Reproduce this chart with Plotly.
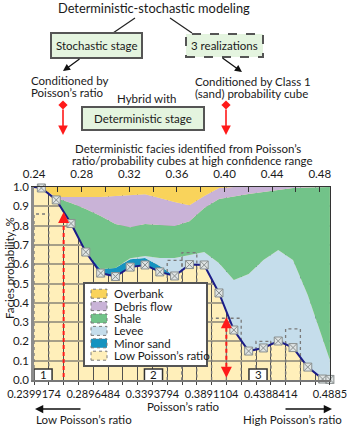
import plotly.graph_objects as go

# ---------------- data ----------------
poisson_x = [0.2399, 0.2461, 0.2586, 0.2710, 0.2834, 0.2959, 0.3083, 0.3207, 0.3332, 0.3456,
             0.3580, 0.3705, 0.3829, 0.3953, 0.4078, 0.4202, 0.4326, 0.4451, 0.4575, 0.4699,
             0.4824, 0.4885]
low_poisson = [1.0, 0.995, 0.933, 0.811, 0.663, 0.554, 0.536, 0.585, 0.596, 0.560,
               0.539, 0.598, 0.596, 0.451, 0.259, 0.150, 0.166, 0.202, 0.168, 0.067,
               0.005, 0.003]
minor_sand = [0, 0, 0, 0, 0, 0.021, 0.044, 0.041, 0.036, 0.031, 0,
              0, 0, 0, 0, 0, 0, 0, 0, 0, 0, 0]
levee = [0, 0, 0, 0, 0, 0, 0, 0.005, 0.010, 0.041, 0.093,
         0.049, 0.067, 0.155, 0.259, 0.399, 0.456, 0.472, 0.454, 0.373, 0.202, 0.101]
shale = [0, 0, 0.010, 0.106, 0.223, 0.275, 0.228, 0.161, 0.166, 0.171, 0.166,
         0.176, 0.228, 0.332, 0.435, 0.415, 0.352, 0.311, 0.373, 0.557, 0.793, 0.896]
debris_flow = [0, 0, 0.005, 0.031, 0.062, 0.098, 0.145, 0.166, 0.155, 0.140, 0.124,
               0.083, 0.062, 0.057, 0.047, 0.036, 0.026, 0.016, 0.005, 0.003, 0, 0]
overbank = [0, 0.005, 0.052, 0.052, 0.052, 0.052, 0.047, 0.041, 0.036, 0.057, 0.078,
            0.093, 0.047, 0.005, 0, 0, 0, 0, 0, 0, 0, 0]

facies_names = ["Overbank", "Debris flow", "Shale", "Levee", "Minor sand", "Low Poisson\u2019s ratio"]
facies_colors = ["#F9D35B", "#C9B3D7", "#72C389", "#C5DDEB", "#1593C0", "#FFEFBA"]

bottom_ticks = [0.2399174, 0.2896484, 0.3393794, 0.3891104, 0.4388414, 0.4885]
bottom_labels = ["0.2399174", "0.2896484", "0.3393794", "0.3891104", "0.4388414", "0.4885"]
top_ticks = [0.24, 0.28, 0.32, 0.36, 0.40, 0.44, 0.48]
top_labels = ["0.24", "0.28", "0.32", "0.36", "0.40", "0.44", "0.48"]
x_start = 0.2399174
bin_width = 0.01243275

realization_bins = [0, 9, 10, 12, 13, 15, 16, 17]
realization_tops = [0.86, 0.62, 0.66, 0.32, 0.32, 0.20, 0.20, 0.265]

cutoff_x = [0.2648, 0.4015]
cutoff_top = [0.87, 0.325]
cutoff_bottom = [-0.005, 0.012]

zone_labels = ["1", "2", "3"]
zone_x = [0.2475, 0.3403, 0.4281]

TXT = "#1a1a1a"
FONT = "Lato"

# ---------------- helpers (pixel -> paper) ----------------
L, R, T, B = 34, 20, 187, 47
PW, PH = 350 - L - R, 427 - T - B


def PX(px):
    return (px - L) / PW


def PY(py):
    return (427 - B - py) / PH


def text(t, px, py, size=11.5, xanchor="center", **kw):
    return dict(text=t, x=PX(px), y=PY(py), xref="paper", yref="paper", showarrow=False,
                xanchor=xanchor, yanchor="middle", borderpad=0,
                font=dict(size=size, color=TXT, family=FONT), **kw)


def arrow(tip_x, tip_y, tail_x, tail_y, color="#111", width=1.3, head=2, size=1.1):
    return dict(text="", x=PX(tip_x), y=PY(tip_y), xref="paper", yref="paper",
                ax=tail_x - tip_x, ay=tail_y - tip_y, axref="pixel", ayref="pixel",
                showarrow=True, arrowhead=head, arrowsize=size, arrowwidth=width,
                arrowcolor=color, standoff=0, startstandoff=0)


def rect(x0, y0, x1, y1, fill, line="#555", width=2, dash="solid"):
    return dict(type="rect", xref="paper", yref="paper", x0=PX(x0), x1=PX(x1), y0=PY(y1), y1=PY(y0),
                fillcolor=fill, line=dict(color=line, width=width, dash=dash), layer="above")


def seg(x0, y0, x1, y1, color="#222", width=1.2):
    return dict(type="line", xref="paper", yref="paper", x0=PX(x0), x1=PX(x1), y0=PY(y0), y1=PY(y1),
                line=dict(color=color, width=width), layer="above")


def diamond(cx, cy, r=4.6, color="#FF1A1A"):
    pts = [(cx, cy - r), (cx + r, cy), (cx, cy + r), (cx - r, cy)]
    path = "M " + " L ".join(f"{PX(a)},{PY(b)}" for a, b in pts) + " Z"
    return dict(type="path", xref="paper", yref="paper", path=path, fillcolor=color,
                line=dict(color=color, width=0), layer="above")


fig = go.Figure()

# stacked facies probabilities above the Low Poisson's ratio curve
stack = [("low", low_poisson, "rgba(0,0,0,0)"),
         ("Minor sand", minor_sand, facies_colors[4]),
         ("Levee", levee, facies_colors[3]),
         ("Shale", shale, facies_colors[2]),
         ("Debris flow", debris_flow, facies_colors[1]),
         ("Overbank", overbank, facies_colors[0])]
for name, vals, col in stack:
    fig.add_trace(go.Scatter(x=poisson_x, y=vals, stackgroup="f", mode="lines",
                             line=dict(width=0, color=col), fillcolor=col, name=name,
                             hoverinfo="skip", showlegend=False))

# realization histogram outlines
rx, ry = [], []
for b, v in zip(realization_bins, realization_tops):
    l = x_start + b * bin_width
    r = l + bin_width
    rx += [l, l, r, r, None]
    ry += [0, v, v, 0, None]
fig.add_trace(go.Scatter(x=rx, y=ry, mode="lines", line=dict(color="#7a7a7a", width=1.3, dash="dot"),
                         hoverinfo="skip", showlegend=False))

# Low Poisson's ratio curve
fig.add_trace(go.Scatter(x=poisson_x, y=low_poisson, mode="lines+markers",
                         line=dict(color="#1c1c87", width=2),
                         marker=dict(symbol="square-x", size=8, color="#dfe4e4",
                                     line=dict(color="#8a9090", width=1)),
                         cliponaxis=False, showlegend=False, hoverinfo="skip"))

# dummy trace to materialise top / right axes
fig.add_trace(go.Scatter(x=[0.3], y=[0.5], xaxis="x2", yaxis="y2", mode="markers",
                         marker=dict(opacity=0), hoverinfo="skip", showlegend=False))

shapes = []
annotations = []

# red dashed double arrows at the cutoffs
for cx, ct, cb in zip(cutoff_x, cutoff_top, cutoff_bottom):
    shapes.append(dict(type="line", xref="x", yref="y", x0=cx, x1=cx, y0=cb + 0.02, y1=ct - 0.02,
                       line=dict(color="#FF1A1A", width=2, dash="4px,3px"), layer="above"))
    annotations.append(dict(text="", x=cx, y=ct, xref="x", yref="y", ax=0, ay=11, showarrow=True,
                            arrowhead=2, arrowsize=1.1, arrowwidth=2, arrowcolor="#FF1A1A", standoff=0))
    annotations.append(dict(text="", x=cx, y=cb, xref="x", yref="y", ax=0, ay=-11, showarrow=True,
                            arrowhead=2, arrowsize=1.1, arrowwidth=2, arrowcolor="#FF1A1A", standoff=0))

# zone boxes 1, 2, 3
for lab, zx in zip(zone_labels, zone_x):
    shapes.append(dict(type="rect", xref="x", yref="y", x0=zx - 0.0076, x1=zx + 0.0076,
                       y0=-0.006, y1=0.057, fillcolor="white", line=dict(color="#333", width=1.5),
                       layer="above"))
    annotations.append(dict(text=lab, x=zx, y=0.026, xref="x", yref="y", showarrow=False,
                            font=dict(size=11.5, color=TXT, family=FONT)))

# legend box
shapes.append(rect(84, 283, 207, 366, "white", line="#555", width=2))
row_y = [293.7, 306.1, 318.5, 330.9, 343.3, 355.7]
for name, col, ry_ in zip(facies_names, facies_colors, row_y):
    shapes.append(rect(91, ry_ - 4.5, 107, ry_ + 4.5, col, line="#7a7a7a", width=1, dash="dot"))
    annotations.append(text(name, 113, ry_, size=11.5, xanchor="left"))

# diagram at the top
annotations.append(text("Deterministic-stochastic modeling", 154, 8, size=12.8))
shapes.append(seg(135, 18, 113, 33))
shapes.append(seg(170, 18, 192, 33))
shapes.append(rect(51, 33, 142, 58, "#E4F4DF", line="#555", width=2))
annotations.append(text("Stochastic stage", 97, 45.5))
shapes.append(rect(186, 34, 263, 57, "#E4F4DF", line="#555", width=2, dash="dash"))
annotations.append(text("3 realizations", 224.5, 45.5))
annotations.append(arrow(63, 71, 81, 58))
annotations.append(arrow(242, 72, 221, 57))
annotations.append(text("Conditioned by", 30, 80, xanchor="left"))
annotations.append(text("Poisson\u2019s ratio", 30, 92, xanchor="left"))
annotations.append(text("Conditioned by Class 1", 194, 81, xanchor="left"))
annotations.append(text("(sand) probability cube", 194, 93, xanchor="left"))
annotations.append(text("Hybrid with", 146, 98.5))
shapes.append(rect(82, 107, 204, 130, "#E4F4DF", line="#555", width=2))
annotations.append(text("Deterministic stage", 143, 118.5))
for dx in (63, 226):
    shapes.append(diamond(dx, 105))
    annotations.append(arrow(dx, 135, dx, 108, color="#FF1A1A", width=1.6, head=2, size=1.2))
annotations.append(text("Deterministic facies identified from Poisson\u2019s", 188, 148))
annotations.append(text("ratio/probability cubes at high confidence range", 192, 160))

# axis titles and bottom arrows
annotations.append(text("Facies probability, %", 9, 268, textangle=-90))
annotations.append(text("Poisson\u2019s ratio", 183, 406.5))
annotations.append(text("Low Poisson\u2019s ratio", 35, 419.5, xanchor="left"))
annotations.append(text("High Poisson\u2019s ratio", 242, 419.5, xanchor="left"))
annotations.append(arrow(35, 409, 82, 409, width=1.5))
annotations.append(arrow(332, 409, 284, 409, width=1.5))

xr = [0.23991, 0.48858]
fig.update_layout(
    width=350, height=427, autosize=False,
    margin=dict(l=L, r=R, t=T, b=B, pad=0, autoexpand=False),
    paper_bgcolor="white", plot_bgcolor=facies_colors[5],
    showlegend=False,
    font=dict(family=FONT, size=12, color=TXT),
    xaxis=dict(range=xr, tickmode="array", tickvals=bottom_ticks, ticktext=bottom_labels,
               tickfont=dict(size=11), ticks="outside", ticklen=3, tickcolor="#444",
               showgrid=True, gridcolor="#505050", gridwidth=1, automargin=False,
               showline=True, linecolor="#777", linewidth=2, zeroline=False,
               minor=dict(tickmode="linear", tick0=x_start, dtick=bin_width, showgrid=True,
                          gridcolor="#505050", gridwidth=1, ticks="outside", ticklen=3,
                          tickcolor="#444")),
    xaxis2=dict(range=xr, overlaying="x", side="top", anchor="y", tickmode="array",
                tickvals=top_ticks, ticktext=top_labels, tickfont=dict(size=11.5),
                ticks="inside", ticklen=5, tickcolor="#333", showgrid=False, automargin=False,
                ticklabelstandoff=3,
                showline=True, linecolor="#333", linewidth=1, zeroline=False,
                minor=dict(tickmode="linear", tick0=0.24, dtick=0.02, ticks="inside",
                           ticklen=5, tickcolor="#333", showgrid=False)),
    yaxis=dict(range=[0, 1], tickmode="linear", tick0=0, dtick=0.1, tickformat=".1f",
               tickfont=dict(size=11.5), showgrid=True, gridcolor="#A69F88", gridwidth=1.5,
               automargin=False,
               showline=True, linecolor="#8c8c8c", linewidth=2.5, ticks="", zeroline=False),
    yaxis2=dict(range=[0, 1], overlaying="y", side="right", anchor="x", showline=True,
                linecolor="#333", linewidth=1, showticklabels=False, showgrid=False,
                automargin=False, ticks="", zeroline=False),
    shapes=shapes,
    annotations=annotations,
)

fig.write_html("out.html", config={"displayModeBar": False})
